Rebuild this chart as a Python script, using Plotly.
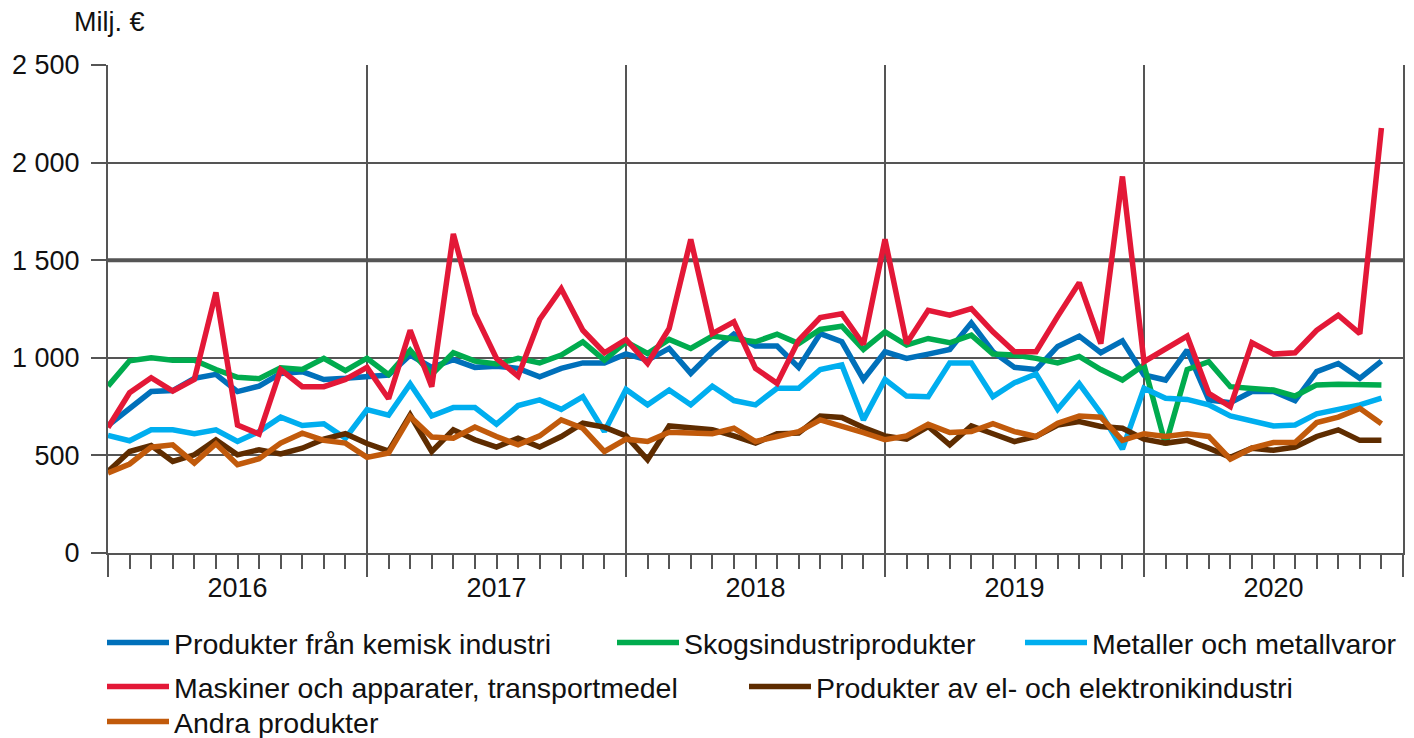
import plotly.graph_objects as go

months = list(range(60))  # Jan 2016 .. Dec 2020
years = ["2016", "2017", "2018", "2019", "2020"]

kemisk = [653, 741, 827, 832, 895, 915, 827, 855, 920, 929, 889, 895,
          900, 912, 1014, 951, 991, 951, 957, 946, 903, 946, 974, 974,
          1020, 988, 1048, 920, 1031, 1122, 1060, 1060, 951, 1124, 1082, 889,
          1031, 997, 1019, 1043, 1179, 1031, 951, 940, 1058, 1111, 1026, 1087,
          912, 886, 1039, 784, 770, 827, 827, 781, 929, 971, 895, 983]
skog = [855, 985, 1000, 988, 988, 940, 900, 893, 949, 940, 997, 934,
        998, 914, 1039, 915, 1026, 983, 968, 997, 974, 1014, 1082, 988,
        1082, 1022, 1094, 1048, 1111, 1094, 1082, 1121, 1073, 1145, 1162, 1043,
        1133, 1065, 1099, 1077, 1116, 1019, 1014, 997, 974, 1007, 940, 886,
        963, 554, 940, 980, 852, 843, 835, 804, 861, 864, 861, 861]
metaller = [602, 575, 631, 631, 611, 631, 571, 622, 696, 653, 662, 588,
            735, 706, 866, 702, 745, 745, 660, 755, 784, 736, 801, 622,
            838, 759, 835, 759, 855, 781, 759, 844, 844, 940, 963, 682,
            889, 804, 801, 974, 974, 801, 872, 917, 736, 867, 716, 532,
            844, 793, 787, 759, 702, 679, 651, 656, 713, 736, 759, 793]
maskiner = [643, 821, 898, 830, 889, 1335, 656, 609, 940, 852, 852, 889,
            951, 790, 1141, 852, 1635, 1226, 997, 906, 1196, 1354, 1141, 1026,
            1094, 971, 1150, 1607, 1124, 1184, 946, 869, 1090, 1206, 1226, 1068,
            1607, 1073, 1243, 1218, 1252, 1133, 1031, 1031, 1212, 1385, 1073, 1929,
            980, 1048, 1111, 818, 750, 1077, 1019, 1026, 1141, 1218, 1124, 2177]
elektronik = [418, 520, 551, 469, 503, 580, 503, 529, 508, 537, 583, 611,
              561, 522, 707, 520, 631, 580, 543, 588, 543, 597, 665, 645,
              600, 478, 651, 645, 632, 600, 563, 611, 614, 702, 694, 643,
              600, 583, 648, 554, 651, 611, 571, 597, 656, 673, 648, 639,
              583, 563, 577, 537, 490, 537, 526, 543, 597, 631, 577, 577]
andra = [410, 456, 542, 554, 461, 560, 452, 483, 563, 614, 577, 563,
         490, 512, 699, 594, 588, 645, 597, 554, 600, 682, 639, 520,
         583, 571, 619, 617, 611, 639, 571, 597, 622, 682, 651, 617,
         580, 600, 660, 617, 622, 662, 622, 597, 665, 702, 696, 577,
         611, 597, 611, 597, 481, 537, 566, 566, 668, 696, 741, 662]

names = ["Produkter från kemisk industri", "Skogsindustriprodukter",
         "Metaller och metallvaror", "Maskiner och apparater, transportmedel",
         "Produkter av el- och elektronikindustri", "Andra produkter"]
series = [kemisk, skog, metaller, maskiner, elektronik, andra]
colors = ["#0070BA", "#00AB4E", "#00AEEF", "#E31837", "#5E2C00", "#C15A0B"]

# the page body has an 8px margin; figure is sized to fit the window
OFF = 8
W, H = 1406, 730
L, R, T, B = 100, 11, 57, 185
pw, ph = W - L - R, H - T - B

def px_x(xpage):
    return (xpage - OFF - L) / pw

def px_y(ypage):
    return (H - B - (ypage - OFF)) / ph

# legend placement (line start x, row center y) in page pixels
leg_pos = [(108, 643), (618, 643), (1026, 643), (108, 687), (750, 687), (108, 722)]

fig = go.Figure()
legend_keys = ["legend", "legend2", "legend3", "legend4", "legend5", "legend6"]
for i, (nm, s, c) in enumerate(zip(names, series, colors)):
    fig.add_trace(go.Scatter(x=months, y=s, mode="lines", name=nm,
                             line=dict(color=c, width=5.5),
                             legend=legend_keys[i], hoverinfo="skip"))

gc = "#555555"
font_family = "Liberation Sans, Arial, sans-serif"

layout_legends = {}
for i, key in enumerate(legend_keys):
    lx, ly = leg_pos[i]
    layout_legends[key] = dict(x=px_x(lx - 6), y=px_y(ly), xanchor="left", yanchor="middle",
                               orientation="h", bgcolor="rgba(0,0,0,0)",
                               font=dict(family=font_family, size=28.5, color="#111"),
                               itemwidth=62)

fig.update_layout(
    width=W, height=H,
    margin=dict(l=L, r=R, t=T, b=B, pad=0, autoexpand=False),
    plot_bgcolor="white", paper_bgcolor="white",
    font=dict(family=font_family, size=27, color="#111"),
    showlegend=True,
    **layout_legends,
    xaxis=dict(range=[0, 60], tickmode="linear", tick0=0, dtick=12,
               showticklabels=False, ticks="outside", ticklen=22, tickwidth=2, tickcolor=gc,
               showgrid=True, gridcolor=gc, gridwidth=2, zeroline=False,
               showline=True, linecolor=gc, linewidth=2,
               minor=dict(tickmode="linear", tick0=0, dtick=1, ticks="outside",
                          ticklen=14, tickwidth=2, tickcolor=gc, showgrid=False)),
    xaxis2=dict(range=[0, 60], overlaying="x", anchor="y", side="bottom",
                tickmode="array", tickvals=[6, 18, 30, 42, 54], ticktext=years,
                ticks="", showgrid=False, zeroline=False, showline=False,
                ticklabelstandoff=16,
                tickfont=dict(family=font_family, size=27, color="#111")),
    yaxis=dict(range=[0, 2500], tickmode="array",
               tickvals=[0, 500, 1000, 1500, 2000, 2500],
               ticktext=["0", "500", "1 000", "1 500", "2 000", "2 500"],
               ticks="outside", ticklen=15, tickwidth=2, tickcolor=gc,
               ticklabelstandoff=6,
               showgrid=True, gridcolor=gc, gridwidth=2, zeroline=False,
               showline=True, linecolor=gc, linewidth=2, mirror=True,
               tickfont=dict(family=font_family, size=27, color="#111")),
)

# invisible trace to make sure xaxis2 is rendered
fig.add_trace(go.Scatter(x=[0], y=[None], xaxis="x2", yaxis="y", showlegend=False,
                         hoverinfo="skip", mode="lines"))

fig.add_hline(y=1500, line=dict(color=gc, width=4), layer="below")

fig.add_annotation(text="Milj. €", xref="paper", yref="paper",
                   x=px_x(72), y=px_y(22), xanchor="left", yanchor="middle",
                   showarrow=False, font=dict(family=font_family, size=27, color="#111"))

fig.write_html("out.html")
